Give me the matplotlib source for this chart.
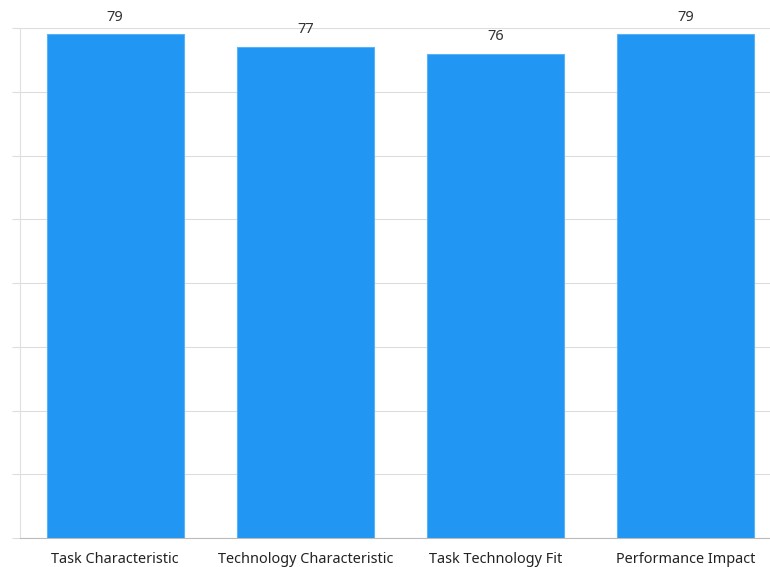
import matplotlib
matplotlib.use("Agg")
import matplotlib.pyplot as plt

categories = ["Task Characteristic", "Technology Characteristic", "Task Technology Fit", "Performance Impact"]
values = [79, 77, 76, 79]
y_ticks = [0, 10, 20, 30, 40, 50, 60, 70, 80]

plt.rcParams['font.family'] = ['Noto Sans', 'DejaVu Sans']

fig = plt.figure(figsize=(7.7, 5.67), dpi=100)
ax = fig.add_axes([20 / 770, 1 - 538 / 567, 761 / 770, 510 / 567])

x = range(len(categories))
bars = ax.bar(x, values, width=0.72, color="#2196F3", edgecolor="#5AB2F6", linewidth=0.8, zorder=3)

for b, v in zip(bars, values):
    ax.annotate(str(v), (b.get_x() + b.get_width() / 2, v), xytext=(0, 7),
                textcoords="offset points", ha="center", va="bottom",
                fontsize=10.5, color="#333333")

ax.set_xlim(-0.5, len(categories) - 0.5)
ax.set_ylim(0, 80)
ax.set_yticks(y_ticks)
ax.set_yticklabels([])
ax.set_xticks(list(x))
ax.set_xticklabels(categories, fontsize=10.4, color="#222222")
ax.tick_params(axis="x", length=0, pad=10)
ax.tick_params(axis="y", length=6, color="#dddddd", width=0.8)
ax.grid(axis="y", color="#dddddd", linewidth=0.8, zorder=0)

for s in ["top", "right"]:
    ax.spines[s].set_visible(False)
ax.spines["left"].set_color("#e0e0e0")
ax.spines["left"].set_linewidth(0.8)
ax.spines["bottom"].set_color("#bbbbbb")
ax.spines["bottom"].set_linewidth(0.8)

fig.savefig("out.png", dpi=100)
